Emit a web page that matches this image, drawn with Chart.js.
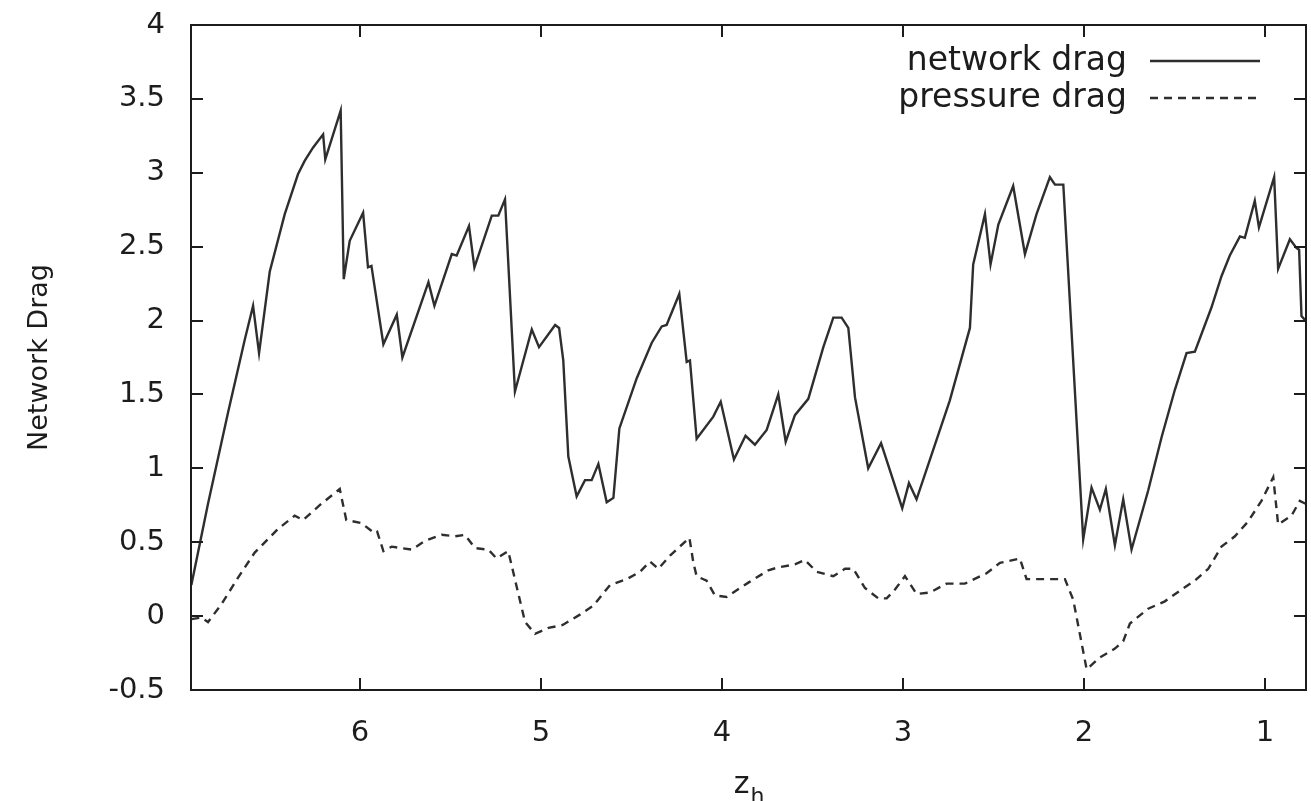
<!DOCTYPE html>
<html>
<head>
<meta charset="utf-8">
<script src="https://cdn.jsdelivr.net/npm/chart.js@4"></script>
<style>
  body { margin: 0; background: #fff; }
  #wrap { width: 1311px; height: 801px; }
</style>
</head>
<body>
<div id="wrap"><canvas id="chart" width="1311" height="801"></canvas></div>
<script>
// network drag vs z_h (x axis runs from 6.9 down to 0.8)
const networkZ = [6.932, 6.840, 6.729, 6.637, 6.591, 6.558, 6.499, 6.416, 6.343, 6.306, 6.260, 6.204, 6.192, 6.107, 6.090, 6.057, 5.983, 5.956, 5.937,
  5.871, 5.797, 5.766, 5.622, 5.589, 5.493, 5.466, 5.398, 5.368, 5.272, 5.236, 5.199, 5.144, 5.051, 5.011, 4.922, 4.900, 4.877,
  4.849, 4.803, 4.757, 4.720, 4.683, 4.637, 4.600, 4.567, 4.471, 4.388, 4.333, 4.306, 4.236, 4.195, 4.177, 4.140, 4.048, 4.007,
  3.934, 3.870, 3.818, 3.753, 3.689, 3.648, 3.597, 3.523, 3.440, 3.385, 3.339, 3.302, 3.265, 3.192, 3.121, 3.004, 2.967, 2.925,
  2.741, 2.630, 2.612, 2.547, 2.516, 2.473, 2.391, 2.326, 2.262, 2.188, 2.160, 2.114, 2.004, 1.958, 1.912, 1.879, 1.829, 1.783,
  1.737, 1.645, 1.571, 1.498, 1.433, 1.387, 1.295, 1.240, 1.194, 1.138, 1.111, 1.056, 1.033, 0.949, 0.927, 0.862, 0.825, 0.811,
  0.798, 0.775]
const networkDrag = [0.21, 0.76, 1.38, 1.87, 2.10, 1.78, 2.33, 2.72, 2.99, 3.08, 3.17, 3.26, 3.09, 3.42, 2.28, 2.54, 2.73, 2.36, 2.37,
  1.84, 2.04, 1.75, 2.26, 2.10, 2.45, 2.44, 2.64, 2.36, 2.71, 2.71, 2.82, 1.52, 1.94, 1.82, 1.97, 1.95, 1.73,
  1.08, 0.81, 0.92, 0.92, 1.03, 0.77, 0.80, 1.27, 1.61, 1.85, 1.96, 1.97, 2.18, 1.72, 1.73, 1.20, 1.35, 1.45,
  1.06, 1.22, 1.16, 1.26, 1.50, 1.18, 1.36, 1.47, 1.82, 2.02, 2.02, 1.95, 1.48, 1.00, 1.17, 0.73, 0.90, 0.79,
  1.46, 1.95, 2.38, 2.72, 2.38, 2.65, 2.91, 2.45, 2.72, 2.97, 2.92, 2.92, 0.52, 0.87, 0.72, 0.86, 0.48, 0.79,
  0.45, 0.85, 1.21, 1.53, 1.78, 1.79, 2.09, 2.30, 2.44, 2.57, 2.56, 2.81, 2.63, 2.97, 2.35, 2.55, 2.49, 2.48,
  2.03, 2.00]

// pressure drag vs z_h
const pressureZ = [6.932, 6.877, 6.840, 6.766, 6.674, 6.582, 6.453, 6.361, 6.315, 6.214, 6.112, 6.076, 5.993, 5.919, 5.905, 5.871,
  5.825, 5.714, 5.641, 5.549, 5.475, 5.420, 5.365, 5.291, 5.245, 5.181, 5.125, 5.088, 5.033, 4.959, 4.880,
  4.785, 4.711, 4.619, 4.527, 4.453, 4.398, 4.352, 4.287, 4.180, 4.158, 4.140, 4.085, 4.039, 3.974, 3.900, 3.850,
  3.744, 3.689, 3.597, 3.542, 3.477, 3.385, 3.320, 3.274, 3.210, 3.136, 3.090, 3.044, 2.989, 2.925, 2.851,
  2.759, 2.658, 2.538, 2.464, 2.354, 2.317, 2.243, 2.105, 2.059, 1.985, 1.912, 1.829, 1.783, 1.746, 1.645,
  1.553, 1.461, 1.387, 1.313, 1.240, 1.166, 1.093, 1.019, 0.954, 0.927, 0.853, 0.807, 0.775]
const pressureDrag = [-0.02, -0.01, -0.04, 0.08, 0.26, 0.43, 0.59, 0.68, 0.65, 0.76, 0.86, 0.65, 0.63, 0.56, 0.57, 0.44,
  0.47, 0.45, 0.51, 0.55, 0.54, 0.55, 0.46, 0.45, 0.39, 0.44, 0.15, -0.04, -0.12, -0.08, -0.06,
  0.01, 0.07, 0.21, 0.25, 0.30, 0.37, 0.32, 0.41, 0.53, 0.36, 0.27, 0.24, 0.14, 0.13, 0.19, 0.23,
  0.31, 0.33, 0.35, 0.38, 0.30, 0.27, 0.32, 0.32, 0.19, 0.12, 0.12, 0.18, 0.27, 0.15, 0.16,
  0.22, 0.22, 0.29, 0.36, 0.39, 0.25, 0.25, 0.25, 0.11, -0.36, -0.28, -0.22, -0.17, -0.05, 0.05,
  0.10, 0.18, 0.24, 0.32, 0.47, 0.54, 0.64, 0.78, 0.94, 0.62, 0.68, 0.78, 0.76]

const xTicks = [6, 5, 4, 3, 2, 1]
const yTicks = [-0.5, 0, 0.5, 1, 1.5, 2, 2.5, 3, 3.5, 4]
const xRange = [0.773, 6.934]

const ink = '#1c1c1c'
const lineInk = '#2e2e2e'
const tickFont = { family: "'DejaVu Sans', sans-serif", size: 29 }

const toPoints = (xs, ys) => xs.map((x, i) => ({ x, y: ys[i] }))

// gnuplot style: full frame with inward ticks on all four sides, key in the top right
const framePlugin = {
  id: 'frame',
  afterDatasetsDraw(chart) {
    const { ctx, chartArea: a, scales } = chart
    const tickLen = 12
    ctx.save()
    ctx.strokeStyle = ink
    ctx.lineWidth = 2
    ctx.strokeRect(a.left, a.top, a.right - a.left, a.bottom - a.top)
    ctx.beginPath()
    xTicks.forEach(v => {
      const px = Math.round(scales.x.getPixelForValue(v))
      ctx.moveTo(px, a.bottom); ctx.lineTo(px, a.bottom - tickLen)
      ctx.moveTo(px, a.top); ctx.lineTo(px, a.top + tickLen)
    })
    yTicks.forEach(v => {
      const py = Math.round(scales.y.getPixelForValue(v))
      ctx.moveTo(a.left, py); ctx.lineTo(a.left + tickLen, py)
      ctx.moveTo(a.right, py); ctx.lineTo(a.right - tickLen, py)
    })
    ctx.stroke()

    // key
    ctx.font = "33px 'DejaVu Sans', sans-serif"
    ctx.fillStyle = ink
    ctx.textAlign = 'right'
    ctx.textBaseline = 'middle'
    chart.data.datasets.forEach((ds, i) => {
      const y = 61 + i * 37
      ctx.fillText(ds.label, 1127, y)
      ctx.beginPath()
      ctx.setLineDash(ds.borderDash || [])
      ctx.strokeStyle = ds.borderColor
      ctx.lineWidth = ds.borderWidth
      ctx.moveTo(1150, y); ctx.lineTo(1260, y)
      ctx.stroke()
    })
    ctx.setLineDash([])

    // x axis title: z with subscript h
    const cx = (a.left + a.right) / 2
    ctx.textAlign = 'left'
    ctx.textBaseline = 'alphabetic'
    ctx.font = "30px 'DejaVu Sans', sans-serif"
    const zw = ctx.measureText('z').width
    ctx.font = "22px 'DejaVu Sans', sans-serif"
    const hw = ctx.measureText('h').width
    const x0 = cx - (zw + hw) / 2
    ctx.font = "30px 'DejaVu Sans', sans-serif"
    ctx.fillText('z', x0, 793)
    ctx.font = "22px 'DejaVu Sans', sans-serif"
    ctx.fillText('h', x0 + zw + 1, 803)
    ctx.restore()
  }
}

const ctx = document.getElementById('chart').getContext('2d')
new Chart(ctx, {
  type: 'line',
  data: {
    datasets: [
      {
        label: 'network drag',
        data: toPoints(networkZ, networkDrag),
        borderColor: lineInk,
        borderWidth: 2.4,
        pointRadius: 0,
        tension: 0,
        fill: false
      },
      {
        label: 'pressure drag',
        data: toPoints(pressureZ, pressureDrag),
        borderColor: lineInk,
        borderWidth: 2.4,
        borderDash: [8, 6],
        pointRadius: 0,
        tension: 0,
        fill: false
      }
    ]
  },
  options: {
    responsive: false,
    animation: false,
    devicePixelRatio: 1,
    layout: { padding: { top: 25, right: 5, left: 0, bottom: 0 } },
    plugins: { legend: { display: false }, tooltip: { enabled: false } },
    scales: {
      x: {
        type: 'linear',
        reverse: true,
        min: xRange[0],
        max: xRange[1],
        grid: { display: false, drawTicks: false },
        border: { display: false },
        afterBuildTicks: s => { s.ticks = xTicks.map(v => ({ value: v })) },
        afterFit: s => { s.height = 111; s.paddingLeft = 0; s.paddingRight = 0 },
        ticks: {
          font: tickFont,
          color: ink,
          padding: 26,
          maxRotation: 0,
          autoSkip: false,
          callback: v => String(v)
        }
      },
      y: {
        type: 'linear',
        min: yTicks[0],
        max: yTicks[yTicks.length - 1],
        grid: { display: false, drawTicks: false },
        border: { display: false },
        afterBuildTicks: s => { s.ticks = yTicks.map(v => ({ value: v })) },
        afterFit: s => { s.width = 191; s.paddingTop = 0; s.paddingBottom = 0 },
        ticks: {
          font: tickFont,
          color: ink,
          padding: 26,
          autoSkip: false,
          callback: v => String(v)
        },
        title: {
          display: true,
          text: 'Network Drag',
          color: ink,
          font: { family: "'DejaVu Sans', sans-serif", size: 27 },
          padding: { top: 24, bottom: 0 }
        }
      }
    }
  },
  plugins: [framePlugin]
})
</script>
</body>
</html>
